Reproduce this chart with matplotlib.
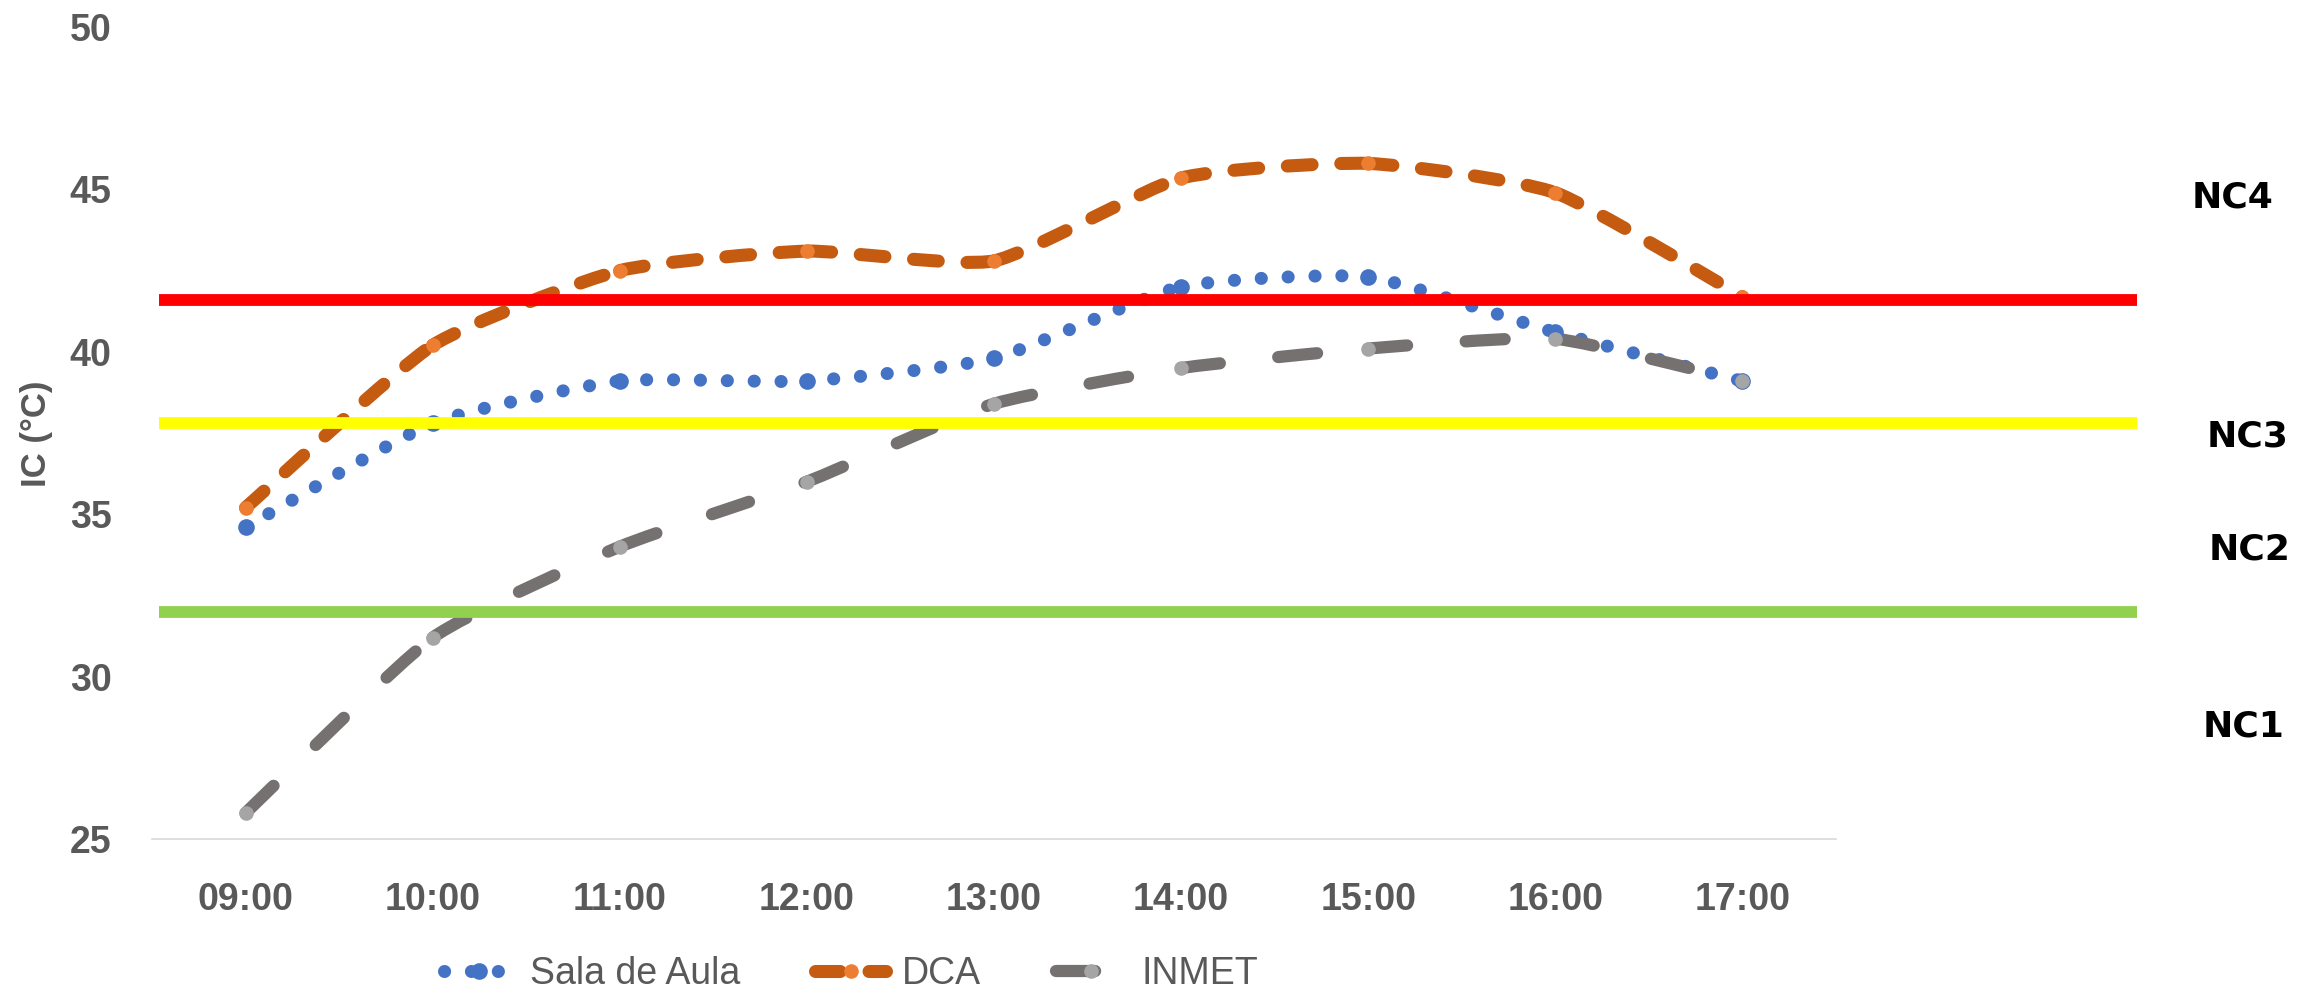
import matplotlib.pyplot as plt
from matplotlib.path import Path
from matplotlib.patches import PathPatch
from matplotlib.lines import Line2D

plt.rcParams['font.family'] = ['Liberation Sans', 'DejaVu Sans']

horas = ['09:00', '10:00', '11:00', '12:00', '13:00', '14:00', '15:00', '16:00', '17:00']
sala_aula = [34.6, 37.8, 39.1, 39.1, 39.8, 42.0, 42.3, 40.6, 39.1]
dca = [35.2, 40.2, 42.5, 43.1, 42.8, 45.35, 45.8, 44.9, 41.7]
inmet = [25.8, 31.2, 34.0, 36.0, 38.4, 39.5, 40.1, 40.4, 39.1]

limites = [32.0, 37.8, 41.6]
cores_limites = ['#92D050', '#FFFF00', '#FF0000']
niveis = ['NC1', 'NC2', 'NC3', 'NC4']

cinza = '#595959'


def trechos(xs, ys, k=11):
    # um trecho bezier por intervalo (como no Excel o tracejado recomeca em cada ponto)
    p = list(zip(xs, ys))
    p = [p[0]] + p + [p[-1]]
    out = []
    for i in range(1, len(p) - 2):
        p0, p1, p2, p3 = p[i - 1], p[i], p[i + 1], p[i + 2]
        c1 = (p1[0] + (p2[0] - p0[0]) / k, p1[1] + (p2[1] - p0[1]) / k)
        c2 = (p2[0] - (p3[0] - p1[0]) / k, p2[1] - (p3[1] - p1[1]) / k)
        out.append(Path([p1, c1, c2, p2],
                        [Path.MOVETO, Path.CURVE4, Path.CURVE4, Path.CURVE4]))
    return out


fig = plt.figure(figsize=(23.13, 9.92), dpi=100)
ax = fig.add_axes([0.0657, 0.1542, 1 - 0.0657, 0.9728 - 0.1542])

x = list(range(len(horas)))

series = [
    (sala_aula, 'Sala de Aula', '#4472C4', '#4472C4', 9.4, (0, (0.01, 2.05)), 12),
    (dca, 'DCA', '#C55A11', '#ED7D31', 9.4, (0, (1.9, 2.2)), 10.5),
    (inmet, 'INMET', '#767171', '#A5A5A5', 8.8, (0, (3.2, 4.8)), 10.5),
]

handles = []
for vals, nome, cor, cor_m, lw, ls, ms in series:
    for seg in trechos(x, vals):
        ax.add_patch(PathPatch(seg, fill=False, edgecolor=cor, lw=lw,
                               linestyle=ls, capstyle='round', zorder=2))
    ax.plot(x, vals, 'o', color=cor_m, markersize=ms, markeredgewidth=0, zorder=3)
    handles.append(Line2D([], [], color=cor, lw=lw, linestyle=ls, dash_capstyle='round',
                          marker='o', markerfacecolor=cor_m, markeredgewidth=0,
                          markersize=ms, label=nome))

for lim, cor in zip(limites, cores_limites):
    ax.plot([-0.46, 10.11], [lim, lim], color=cor, lw=8.5, solid_capstyle='butt',
            zorder=4, clip_on=False)

nc = dict(fontsize=26, fontweight='bold', ha='center', va='center', family='DejaVu Sans')
ax.text(10.62, 44.75, niveis[3], **nc)
ax.text(10.70, 37.40, niveis[2], **nc)
ax.text(10.71, 33.92, niveis[1], **nc)
ax.text(10.68, 28.45, niveis[0], **nc)

ax.set_xlim(-0.5, 11.05)
ax.set_ylim(25, 50)
ax.set_xticks(x)
ax.set_xticklabels(horas)
ax.set_yticks([25, 30, 35, 40, 45, 50])
ax.tick_params(length=0, labelsize=27, labelcolor=cinza)
ax.tick_params(axis='y', pad=29)
ax.tick_params(axis='x', pad=31)
for lab in ax.get_xticklabels() + ax.get_yticklabels():
    lab.set_fontweight('bold')

for s in ['top', 'right', 'left']:
    ax.spines[s].set_visible(False)
ax.spines['bottom'].set_color('#D9D9D9')
ax.spines['bottom'].set_linewidth(1.2)
ax.spines['bottom'].set_bounds(-0.5, 8.5)

fig.text(0.0158, 0.563, 'IC (°C)', rotation=90, fontsize=25, fontweight='bold',
         color=cinza, ha='center', va='center')

fig.legend(handles=handles, loc='center', bbox_to_anchor=(0.368, 0.018), ncol=3,
           frameon=False, fontsize=27, labelcolor=cinza, numpoints=1,
           handlelength=1.9, handletextpad=0.4, columnspacing=2.0)

fig.savefig('out.png', dpi=100)
